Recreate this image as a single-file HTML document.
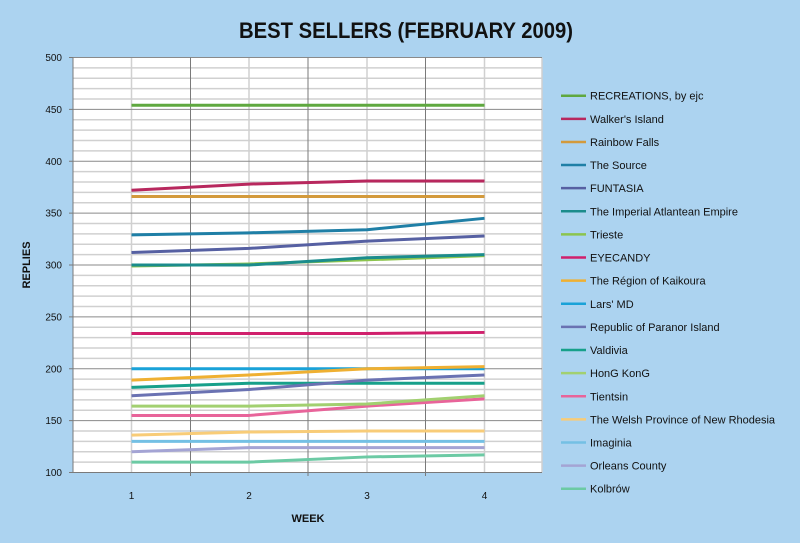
<!DOCTYPE html>
<html><head><meta charset="utf-8"><style>
body{margin:0;background:#acd3f0;}
svg{display:block;font-family:"Liberation Sans",sans-serif;}
</style></head><body>
<svg id="c" width="800" height="543" xmlns="http://www.w3.org/2000/svg">
<rect width="800" height="543" fill="#acd3f0"/>
<text x="406" y="38" text-anchor="middle" font-size="22" font-weight="bold" fill="#111" textLength="334" lengthAdjust="spacingAndGlyphs">BEST SELLERS (FEBRUARY 2009)</text>
<rect x="73" y="57.5" width="469" height="415" fill="#fff"/>
<g id="g"></g>
<text transform="translate(30,265) rotate(-90)" text-anchor="middle" font-size="11" font-weight="bold" fill="#111">REPLIES</text>
<text x="308" y="522" text-anchor="middle" font-size="11" font-weight="bold" fill="#111">WEEK</text>
</svg>
<script>
const g=document.getElementById('g');const NS='http://www.w3.org/2000/svg';
function el(t,a,txt){const e=document.createElementNS(NS,t);for(const k in a)e.setAttribute(k,a[k]);if(txt!==undefined)e.textContent=txt;g.appendChild(e);return e;}
const Y=v=>472.5-(v-100)*1.0375;
for(let v=110;v<500;v+=10){if(v%50)el('line',{x1:73,x2:542,y1:Y(v),y2:Y(v),stroke:'#d0d0d0','stroke-width':1.5});}
[131.5,249,367,484.5,542].forEach(x=>el('line',{x1:x,x2:x,y1:57.5,y2:472.5,stroke:'#d0d0d0','stroke-width':1.5}));
for(let v=150;v<=500;v+=50)el('line',{x1:73,x2:542,y1:Y(v),y2:Y(v),stroke:'#8a8a8a','stroke-width':1});
[190.5,308,425.5].forEach(x=>el('line',{x1:x,x2:x,y1:57.5,y2:476,stroke:'#7a7a7a','stroke-width':1}));
el('line',{x1:73,x2:73,y1:57.5,y2:472.5,stroke:'#7a7a7a'});
el('line',{x1:69,x2:542,y1:472.5,y2:472.5,stroke:'#7a7a7a'});
for(let v=100;v<=500;v+=50){el('line',{x1:69,x2:73,y1:Y(v),y2:Y(v),stroke:'#7a7a7a'});el('text',{x:62,y:Y(v)+3.5,'text-anchor':'end','font-size':10,fill:'#111'},v);}
const X=[131.5,249,367,484.5];
X.forEach((x,i)=>el('text',{x:x,y:499,'text-anchor':'middle','font-size':10,fill:'#111'},i+1));
const S=[
["RECREATIONS, by ejc","#5fa83f",[454,454,454,454]],
["Walker's Island","#b8285e",[372,378,381,381]],
["Rainbow Falls","#d39a3c",[366,366,366,366]],
["The Source","#1f7fa6",[329,331,334,345]],
["FUNTASIA","#5660a2",[312,316,323,328]],
["The Imperial  Atlantean Empire","#1b8c8c",[300,300,307,310]],
["Trieste","#8cc44e",[299,301,305,309]],
["EYECANDY","#d0206c",[234,234,234,235]],
["The Région of Kaikoura","#efb032",[189,194,200,202]],
["Lars' MD","#1aa2d8",[200,200,200,200]],
["Republic of Paranor  Island","#6a72b2",[174,180,189,194]],
["Valdivia","#17a08a",[182,186,186,186]],
["HonG KonG","#a2d070",[164,164,166,174]],
["Tientsin","#e8649a",[155,155,164,171]],
["The Welsh Province  of New Rhodesia","#f8cc78",[136,139,140,140]],
["Imaginia","#74c0e4",[130,130,130,130]],
["Orleans County","#a4a4d4",[120,124,124,124]],
["Kolbrów","#6ccaa4",[110,110,115,117]]];
S.slice().reverse().forEach(s=>el('polyline',{points:s[2].map((v,i)=>X[i]+','+Y(v)).join(' '),fill:'none',stroke:s[1],'stroke-width':3,'stroke-linejoin':'round'}));
S.forEach((s,i)=>{const y=95.7+i*23.12;el('line',{x1:561,x2:586,y1:y,y2:y,stroke:s[1],'stroke-width':2.5});el('text',{x:590,y:y+4,'font-size':11,fill:'#111'},s[0]);});
</script>
</body></html>
